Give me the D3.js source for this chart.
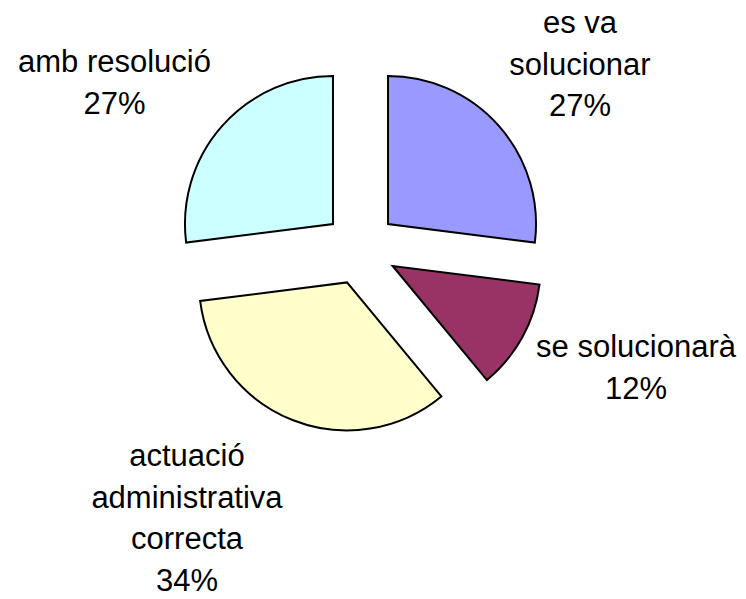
<!DOCTYPE html>
<html>
<head>
<meta charset="utf-8">
<script src="https://cdn.jsdelivr.net/npm/d3@7"></script>
<style>
  html, body { margin: 0; padding: 0; background: #fff; }
  svg { display: block; }
  text { font-family: Arial, "Liberation Sans", sans-serif; fill: #000; }
</style>
</head>
<body>
<div id="chart"></div>
<script>
// Data
const categories = ["es va solucionar", "se solucionarà", "actuació administrativa correcta", "amb resolució"];
const labelLines = [["es va", "solucionar"], ["se solucionarà"], ["actuació", "administrativa", "correcta"], ["amb resolució"]];
const values = [27, 12, 34, 27];
const colors = ["#9999FF", "#993366", "#FFFFCC", "#CCFFFF"];

// Layout
const W = 746, H = 599;
const cx = 360.5, cy = 248.3, R = 148, explode = 36.7;
const fontSize = 31, lineH = 41.5;
// label anchor: x centre and baseline of first line
const labelPos = [[580, 33], [636, 357], [187, 466], [114.5, 72]];

const svg = d3.select("#chart").append("svg").attr("width", W).attr("height", H);

const pie = d3.pie().sort(null).value(d => d)(values);
const arc = d3.arc().innerRadius(0).outerRadius(R);

const g = svg.append("g").attr("transform", `translate(${cx},${cy})`);

g.selectAll("path.slice")
  .data(pie)
  .enter().append("path")
  .attr("class", "slice")
  .attr("d", arc)
  .attr("fill", (d, i) => colors[i])
  .attr("stroke", "#000")
  .attr("stroke-width", 2)
  .attr("stroke-linejoin", "miter")
  .attr("transform", d => {
    const a = (d.startAngle + d.endAngle) / 2;
    return `translate(${explode * Math.sin(a)},${-explode * Math.cos(a)})`;
  });

const fmt = d3.format(".0%");
const total = d3.sum(values);

pie.forEach((d, i) => {
  const lines = labelLines[i].concat([fmt(values[i] / total)]);
  const t = svg.append("text")
    .attr("text-anchor", "middle")
    .attr("font-size", fontSize);
  lines.forEach((ln, k) => {
    t.append("tspan")
      .attr("x", labelPos[i][0])
      .attr("y", labelPos[i][1] + k * lineH)
      .text(ln);
  });
});
</script>
</body>
</html>
